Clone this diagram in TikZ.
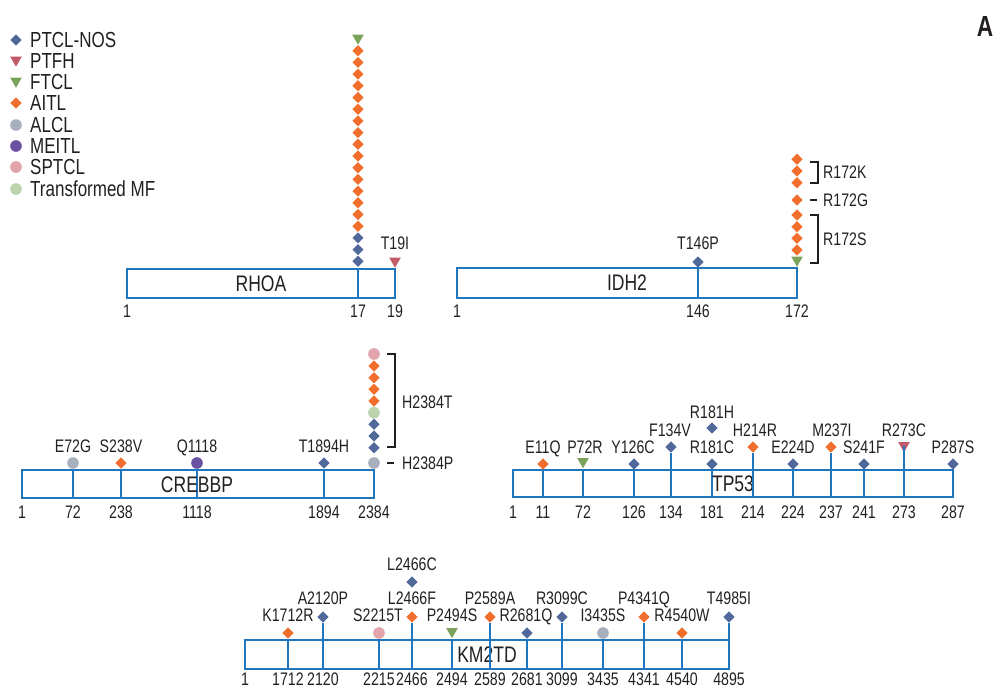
\documentclass[tikz,border=0pt]{standalone}
\usepackage{fontspec}
\setmainfont{Liberation Sans}[FakeStretch=0.78]
\usetikzlibrary{shapes.geometric}

\definecolor{cnos}{HTML}{51689B}
\definecolor{cptfh}{HTML}{C25B68}
\definecolor{cftcl}{HTML}{7BA35A}
\definecolor{caitl}{HTML}{F26E2C}
\definecolor{calcl}{HTML}{A8B0BE}
\definecolor{cmeitl}{HTML}{6A52A2}
\definecolor{csptcl}{HTML}{E2A4AA}
\definecolor{cmf}{HTML}{BCD3AE}
\definecolor{cbox}{HTML}{1F77C0}
\definecolor{ctext}{HTML}{231F20}

\tikzset{
  mk/.style={inner sep=0pt, draw=none},
  nos/.style={mk, diamond, fill=cnos, minimum size=0.34cm},
  aitl/.style={mk, diamond, fill=caitl, minimum size=0.34cm},
  ptfh/.style={mk, regular polygon, regular polygon sides=3, shape border rotate=180, fill=cptfh, minimum size=0.4cm},
  ftcl/.style={mk, regular polygon, regular polygon sides=3, shape border rotate=180, fill=cftcl, minimum size=0.4cm},
  alcl/.style={mk, circle, fill=calcl, minimum size=0.35cm},
  meitl/.style={mk, circle, fill=cmeitl, minimum size=0.35cm},
  sptcl/.style={mk, circle, fill=csptcl, minimum size=0.35cm},
  tmf/.style={mk, circle, fill=cmf, minimum size=0.35cm},
  lab/.style={inner sep=0pt, text=ctext, font=\fontsize{15.5}{18}\selectfont, text height=10.7pt, text depth=0pt},
  legtext/.style={lab, anchor=west, font=\fontsize{18.6}{22}\selectfont, text height=12.8pt},
  genename/.style={lab, font=\fontsize{19.2}{22}\selectfont, text height=13.2pt},
  gbox/.style={draw=cbox, line width=2.2pt},
  stem/.style={draw=cbox, line width=2.2pt},
  brk/.style={draw=ctext, line width=1.8pt}
}

\begin{document}
\begin{tikzpicture}[x=0.03cm, y=-0.03cm]
  \useasboundingbox (0,0) rectangle (997,688);

  % Leyenda
  \node[nos]   (lg1) at (16,40) {};
  \node[ptfh]  (lg2) at (16,60) {};
  \node[ftcl]  (lg3) at (16,81) {};
  \node[aitl]  (lg4) at (16,103) {};
  \node[alcl]  (lg5) at (16,125) {};
  \node[meitl] (lg6) at (16,146) {};
  \node[sptcl] (lg7) at (16,167) {};
  \node[tmf]   (lg8) at (16,189) {};
  \node[legtext] (lgt1) at (30,40) {PTCL-NOS};
  \node[legtext] (lgt2) at (30,61) {PTFH};
  \node[legtext] (lgt3) at (30,82) {FTCL};
  \node[legtext] (lgt4) at (30,103) {AITL};
  \node[legtext] (lgt5) at (30,125) {ALCL};
  \node[legtext] (lgt6) at (30,146) {MEITL};
  \node[legtext] (lgt7) at (30,167) {SPTCL};
  \node[legtext] (lgt8) at (30,189) {Transformed MF};

  % Letra del panel
  \node[lab, font=\bfseries\fontsize{24.8}{28}\selectfont, text height=17pt] (panel) at (985,27) {A};

  % RHOA
  \draw[gbox] (127,269) rectangle (395,298);
  \draw[stem] (358,298) -- (358,269);
  \node[genename] (rhoa) at (261,283.5) {RHOA};
  \node[lab] (rhoa-1) at (127,311) {1};
  \node[lab] (rhoa-17) at (358,311) {17};
  \node[lab] (rhoa-19) at (395,311) {19};
  \node[ftcl] (rhoa-top) at (358,38) {};
  \foreach \i in {1,...,16} \node[aitl] (rhoa-a\i) at (358,{39+11.7*\i}) {};
  \foreach \i in {17,18,19} \node[nos] (rhoa-n\i) at (358,{39+11.7*\i}) {};
  \node[ptfh] (t19i) at (395,261) {};
  \node[lab] (t19i-l) at (395,243) {T19I};

  % IDH2
  \draw[gbox] (457,268) rectangle (797,298);
  \draw[stem] (698,298) -- (698,268);
  \node[genename] (idh2) at (627,283) {IDH2};
  \node[lab] (idh2-1) at (457,311) {1};
  \node[lab] (idh2-146) at (698,311) {146};
  \node[lab] (idh2-172) at (797,311) {172};
  \node[nos] (t146p) at (698,262) {};
  \node[lab] (t146p-l) at (698,243) {T146P};
  \foreach \y [count=\k] in {159.3,171,182.7,200,215,226.7,238.3,250}
    \node[aitl] (idh2-a\k) at (797,\y) {};
  \node[ftcl] (idh2-f) at (797,260) {};
  % corchetes R172
  \draw[brk] (810,162) -- (818,162) -- (818,183) -- (810,183);
  \draw[brk] (810,200) -- (817,200);
  \draw[brk] (810,215) -- (818,215) -- (818,263) -- (810,263);
  \node[lab, anchor=west] (r172k) at (823,172) {R172K};
  \node[lab, anchor=west] (r172g) at (823,200) {R172G};
  \node[lab, anchor=west] (r172s) at (823,239) {R172S};

  % CREBBP
  \draw[gbox] (22,470) rectangle (374,498);
  \foreach \x in {73,121,197,324} \draw[stem] (\x,498) -- (\x,470);
  \node[genename] (crebbp) at (197,484.5) {CREBBP};
  \node[lab] (crebbp-1) at (22,512) {1};
  \node[lab] (crebbp-72) at (73,512) {72};
  \node[lab] (crebbp-238) at (121,512) {238};
  \node[lab] (crebbp-1118) at (197,512) {1118};
  \node[lab] (crebbp-1894) at (324,512) {1894};
  \node[lab] (crebbp-2384) at (374,512) {2384};
  \node[alcl] (e72g) at (73,463) {};
  \node[aitl] (s238v) at (121,463) {};
  \node[meitl] (q1118) at (197,463) {};
  \node[nos] (t1894h) at (324,463) {};
  \node[lab] (e72g-l) at (73,446) {E72G};
  \node[lab] (s238v-l) at (121,446) {S238V};
  \node[lab] (q1118-l) at (197,446) {Q1118};
  \node[lab] (t1894h-l) at (324,446) {T1894H};
  \node[sptcl] (h2384-s) at (374,354) {};
  \foreach \y [count=\k] in {366,377.7,389.3,401} \node[aitl] (h2384-a\k) at (374,\y) {};
  \node[tmf] (h2384-m) at (374,412.7) {};
  \foreach \y [count=\k] in {424.3,436,447.7} \node[nos] (h2384-n\k) at (374,\y) {};
  \node[alcl] (h2384p) at (374,463) {};
  % corchetes H2384
  \draw[brk] (387,354) -- (395,354) -- (395,447) -- (387,447);
  \draw[brk] (387,463) -- (394,463);
  \node[lab, anchor=west] (h2384t-l) at (402,402) {H2384T};
  \node[lab, anchor=west] (h2384p-l) at (402,463) {H2384P};

  % TP53
  \draw[gbox] (513,470) rectangle (953,497);
  \foreach \x in {543,583,634,712,793,864} \draw[stem] (\x,497) -- (\x,470);
  \node[genename] (tp53) at (733,483.5) {TP53};
  \foreach \x/\t in {513/1,543/11,583/72,634/126,671/134,712/181,753/214,793/224,831/237,864/241,904/273,953/287}
    \node[lab] (tp53-\t) at (\x,512) {\t};
  \node[aitl] (e11q) at (543,464) {};
  \node[ftcl] (p72r) at (583,461.5) {};
  \node[nos] (y126c) at (634,464) {};
  \node[nos] (f134v) at (671,447) {};
  \node[nos] (r181c) at (712,464) {};
  \node[nos] (r181h) at (712,428) {};
  \node[aitl] (h214r) at (753,447) {};
  \node[nos] (e224d) at (793,464) {};
  \node[aitl] (m237i) at (831,447) {};
  \node[nos] (s241f) at (864,464) {};
  \node[ptfh] (r273c) at (904,445.5) {};
  \node[nos] (p287s) at (953,464) {};
  \draw[stem] (671,497) -- (f134v.south);
  \draw[stem] (753,497) -- (h214r.south);
  \draw[stem] (831,497) -- (m237i.south);
  \draw[stem] (904,497) -- (r273c.center);
  \node[lab] (e11q-l) at (543,447) {E11Q};
  \node[lab] (p72r-l) at (585,447) {P72R};
  \node[lab] (y126c-l) at (633,447) {Y126C};
  \node[lab] (r181c-l) at (712,447) {R181C};
  \node[lab] (e224d-l) at (793,447) {E224D};
  \node[lab] (s241f-l) at (864,447) {S241F};
  \node[lab] (p287s-l) at (953,447) {P287S};
  \node[lab] (f134v-l) at (670,430) {F134V};
  \node[lab] (h214r-l) at (755,430) {H214R};
  \node[lab] (m237i-l) at (832,430) {M237I};
  \node[lab] (r273c-l) at (904,430) {R273C};
  \node[lab] (r181h-l) at (712,412) {R181H};

  % KM2TD
  \draw[gbox] (245,640) rectangle (729,669);
  \foreach \x in {288,379,452,527,603,682} \draw[stem] (\x,669) -- (\x,640);
  \node[genename] (km2td) at (487,654.5) {KM2TD};
  \foreach \x/\t in {245/1,288/1712,323/2120,379/2215,412/2466,452/2494,490/2589,527/2681,562/3099,603/3435,644/4341,682/4540,729/4895}
    \node[lab] (km2td-\t) at (\x,679) {\t};
  \node[aitl] (k1712r) at (288,633) {};
  \node[nos] (a2120p) at (323,617) {};
  \node[sptcl] (s2215t) at (379,633) {};
  \node[aitl] (l2466f) at (412,617) {};
  \node[nos] (l2466c) at (412,582) {};
  \node[ftcl] (p2494s) at (452,631.5) {};
  \node[aitl] (p2589a) at (490,617) {};
  \node[nos] (r2681q) at (527,633) {};
  \node[nos] (r3099c) at (562,617) {};
  \node[alcl] (i3435s) at (603,633) {};
  \node[aitl] (p4341q) at (644,617) {};
  \node[aitl] (r4540w) at (682,633) {};
  \node[nos] (t4985i) at (729,617) {};
  \draw[stem] (323,669) -- (a2120p.south);
  \draw[stem] (412,669) -- (l2466f.south);
  \draw[stem] (490,669) -- (p2589a.south);
  \draw[stem] (562,669) -- (r3099c.south);
  \draw[stem] (644,669) -- (p4341q.south);
  \draw[stem] (729,669) -- (t4985i.south);
  \node[lab] (k1712r-l) at (288,615) {K1712R};
  \node[lab] (s2215t-l) at (378,615) {S2215T};
  \node[lab] (p2494s-l) at (452,615) {P2494S};
  \node[lab] (r2681q-l) at (526,615) {R2681Q};
  \node[lab] (i3435s-l) at (603,615) {I3435S};
  \node[lab] (r4540w-l) at (682,615) {R4540W};
  \node[lab] (a2120p-l) at (323,598) {A2120P};
  \node[lab] (l2466f-l) at (412,598) {L2466F};
  \node[lab] (p2589a-l) at (490,598) {P2589A};
  \node[lab] (r3099c-l) at (562,598) {R3099C};
  \node[lab] (p4341q-l) at (644,598) {P4341Q};
  \node[lab] (t4985i-l) at (729,598) {T4985I};
  \node[lab] (l2466c-l) at (412,564) {L2466C};
\end{tikzpicture}
\end{document}
